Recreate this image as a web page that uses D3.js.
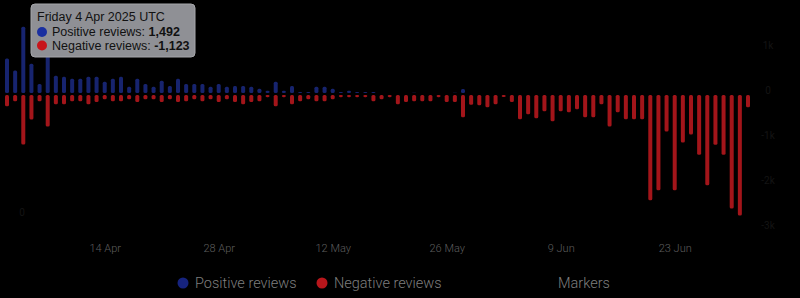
<!DOCTYPE html>
<html>
<head>
<meta charset="utf-8">
<script src="https://cdn.jsdelivr.net/npm/d3@7"></script>
<style>
  html, body { margin:0; padding:0; background:#000; }
  svg { display:block; font-family: Roboto, "Noto Sans", sans-serif; }
</style>
</head>
<body>
<div id="chart"></div>
<script>
// daily review counts, 2 Apr 2025 .. 2 Jul 2025
const startDay = Date.UTC(2025, 3, 2);
const positive = [
  790, 520, 1492, 675, 225, 1010, 405, 385, 340, 340,
  385, 385, 270, 340, 385, 160, 340, 225, 160, 295,
  180, 340, 225, 225, 225, 160, 225, 160, 180, 180,
  160, 115, 70, 270, 70, 180, 45, 45, 160, 160,
  115, 45, 70, 45, 45, 45, 25, 25, 25, 20,
  30, 20, 25, 15, 20, 30, 110, 20, 15, 10,
  5, 15, 10, 5, 10, 5, 10, 15, 5, 10,
  5, 5, 10, 5, 0, 10, 5, 5, 10, 5,
  5, 0, 10, 5, 5, 0, 5, 5, 0, 5,
  5, 10
];
const negative = [
  -270, -160, -1123, -565, -160, -720, -225, -225, -160, -160,
  -225, -180, -115, -160, -160, -115, -180, -115, -115, -180,
  -115, -180, -160, -115, -160, -115, -180, -115, -180, -225,
  -180, -160, -70, -270, -70, -225, -160, -115, -160, -160,
  -115, -70, -70, -70, -70, -160, -115, -70, -225, -180,
  -160, -160, -160, -70, -180, -180, -518, -240, -250, -293,
  -225, -68, -180, -563, -450, -540, -383, -608, -383, -405,
  -338, -518, -518, -225, -720, -405, -563, -563, -563, -2363,
  -2138, -833, -2138, -1080, -900, -1350, -2025, -1125, -1350, -2543,
  -2700, -293
];
const xTicks = ["2025-04-14", "2025-04-28", "2025-05-12", "2025-05-26", "2025-06-09", "2025-06-23"];
const yTicks = [1000, 0, -1000, -2000, -3000];
const yTickLabels = ["1k", "0", "-1k", "-2k", "-3k"];
const legendItems = [
  { name: "Positive reviews", color: "#16237e" },
  { name: "Negative reviews", color: "#b8161b" },
  { name: "Markers", color: null }
];
const hoverIndex = 2;

const DAY = 864e5;
const days = positive.map((_, i) => new Date(startDay + i * DAY));

const width = 800, height = 298;
const svg = d3.select('#chart').append('svg').attr('width', width).attr('height', height);
svg.append('rect').attr('width', width).attr('height', height).attr('fill', '#000');

const x = d3.scaleUtc().domain([days[0], days[days.length - 1]]).range([7, 748]);
const y = d3.scaleLinear().domain([1000, -3000]).range([49, 229]);
const barW = 4;

// right axis labels (almost invisible in the dimmed view)
svg.append('g').selectAll('text').data(yTicks).enter().append('text')
   .attr('x', 768).attr('y', d => y(d) - 4).attr('dy', '0.35em').attr('text-anchor', 'middle')
   .style('font-size', '10px').style('fill', '#141414').text((d, i) => yTickLabels[i]);
svg.append('text').attr('x', 22).attr('y', 212).attr('dy', '0.35em').attr('text-anchor', 'middle')
   .style('font-size', '10px').style('fill', '#141414').text('0');

// bars
const bars = svg.append('g');
bars.selectAll('rect.pos').data(positive).enter().append('rect').attr('class', 'pos')
   .attr('x', (d, i) => x(days[i]) - barW / 2).attr('y', d => y(d))
   .attr('width', barW).attr('height', d => Math.max(0, y(0) - y(d) - 1))
   .attr('rx', 1.5).attr('fill', '#17246f');
bars.selectAll('rect.neg').data(negative).enter().append('rect').attr('class', 'neg')
   .attr('x', (d, i) => x(days[i]) - barW / 2).attr('y', y(0) + 1)
   .attr('width', barW).attr('height', d => Math.max(0, y(d) - y(0) - 1))
   .attr('rx', 1.5).attr('fill', '#a3151a');

// x axis
const xAxis = svg.append('g').attr('transform', 'translate(0,241)')
   .call(d3.axisBottom(x).tickValues(xTicks.map(s => new Date(s + 'T00:00:00Z'))).tickFormat(d3.utcFormat('%-d %b')).tickSize(0));
xAxis.select('.domain').remove();
xAxis.selectAll('text').style('font-size', '11px').style('fill', '#5e5e5e').style('font-weight', 300).style('font-family', 'Roboto, sans-serif');

// legend
const legX = [183, 322, 548];
const leg = svg.append('g');
legendItems.forEach((d, i) => {
  if (d.color) leg.append('circle').attr('cx', legX[i]).attr('cy', 283).attr('r', 5.5).attr('fill', d.color);
  leg.append('text').attr('x', legX[i] + (d.color ? 12 : 10)).attr('y', 288)
     .style('font-size', '14.5px').style('font-weight', 300).style('fill', '#7e7e7e').text(d.name);
});

// tooltip
const fmt = v => d3.format(',')(v).replace('\u2212', '-');
const tip = svg.append('g').attr('transform', 'translate(31,4)');
tip.append('rect').attr('width', 164).attr('height', 53).attr('rx', 4)
   .attr('fill', '#8f9095').attr('stroke', '#a5a6aa').attr('stroke-width', 1);
tip.append('text').attr('x', 6).attr('y', 17).style('font-size', '12.5px').style('fill', '#111')
   .style('font-family', '"Liberation Sans", Arial, sans-serif').text(d3.utcFormat('%A %-d %b %Y')(days[hoverIndex]) + ' UTC');
const rows = [
  { name: 'Positive reviews', value: positive[hoverIndex], color: '#1a2fa0' },
  { name: 'Negative reviews', value: negative[hoverIndex], color: '#c8141b' }
];
rows.forEach((r, i) => {
  tip.append('circle').attr('cx', 11).attr('cy', 28 + i * 13.5).attr('r', 5).attr('fill', r.color);
  const t = tip.append('text').attr('x', 21).attr('y', 32 + i * 13.5).style('font-size', '12.5px').style('fill', '#111')
     .style('font-family', '"Liberation Sans", Arial, sans-serif');
  t.append('tspan').text(r.name + ': ');
  t.append('tspan').style('font-weight', 'bold').text(fmt(r.value));
});
</script>
</body>
</html>
